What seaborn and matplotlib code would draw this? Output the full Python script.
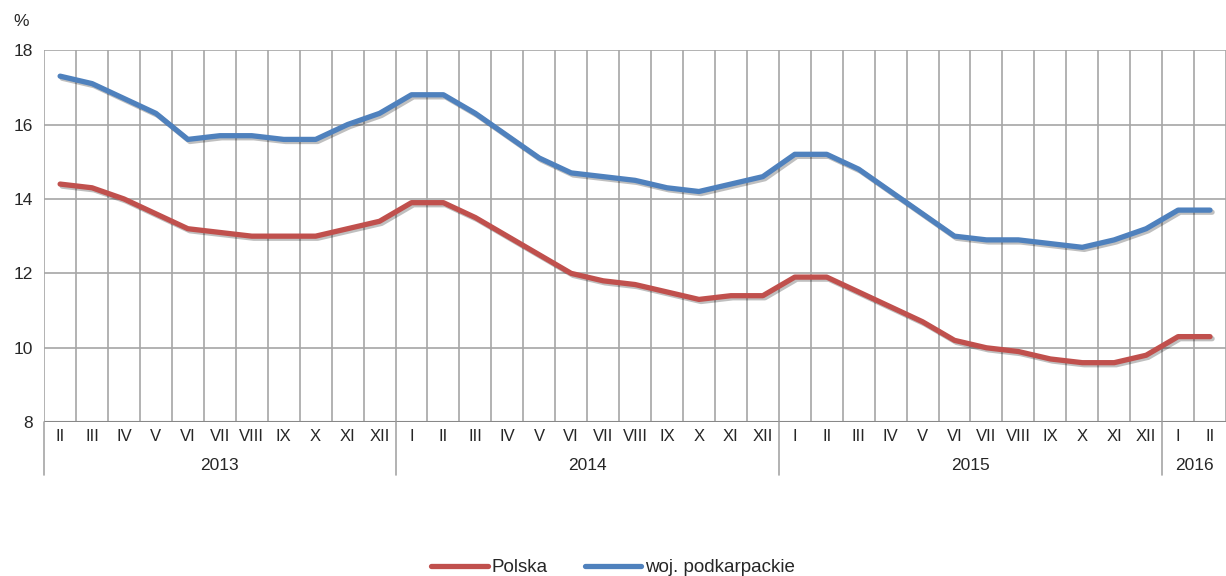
import matplotlib
matplotlib.use("Agg")
import matplotlib.pyplot as plt
import matplotlib.patheffects as pe
import pandas as pd
import seaborn as sns

# Unemployment rate, Feb 2013 - Feb 2016
months = ["II", "III", "IV", "V", "VI", "VII", "VIII", "IX", "X", "XI", "XII",
          "I", "II", "III", "IV", "V", "VI", "VII", "VIII", "IX", "X", "XI", "XII",
          "I", "II", "III", "IV", "V", "VI", "VII", "VIII", "IX", "X", "XI", "XII",
          "I", "II"]
years = ["2013", "2014", "2015", "2016"]
year_len = [11, 12, 12, 2]

polska = [14.4, 14.3, 14.0, 13.6, 13.2, 13.1, 13.0, 13.0, 13.0, 13.2, 13.4,
          13.9, 13.9, 13.5, 13.0, 12.5, 12.0, 11.8, 11.7, 11.5, 11.3, 11.4, 11.4,
          11.9, 11.9, 11.5, 11.1, 10.7, 10.2, 10.0, 9.9, 9.7, 9.6, 9.6, 9.8,
          10.3, 10.3]
podkarpackie = [17.3, 17.1, 16.7, 16.3, 15.6, 15.7, 15.7, 15.6, 15.6, 16.0, 16.3,
                16.8, 16.8, 16.3, 15.7, 15.1, 14.7, 14.6, 14.5, 14.3, 14.2, 14.4, 14.6,
                15.2, 15.2, 14.8, 14.2, 13.6, 13.0, 12.9, 12.9, 12.8, 12.7, 12.9, 13.2,
                13.7, 13.7]

n = len(months)
df = pd.DataFrame({
    "idx": list(range(n)) * 2,
    "value": polska + podkarpackie,
    "series": ["Polska"] * n + ["woj. podkarpackie"] * n,
})

sns.set_style("white")
plt.rcParams["font.family"] = ["Liberation Sans", "DejaVu Sans"]

fig = plt.figure(figsize=(12.26, 5.76), dpi=100)
ax = fig.add_axes([0.036, 0.267, 0.964, 0.646])

grid_c = "#a6a6a6"
for y in range(8, 19, 2):
    ax.axhline(y, color=grid_c, lw=1.2, zorder=0)
for i in range(n + 1):
    ax.axvline(i - 0.5, color=grid_c, lw=1.2, zorder=0)

shadow = [pe.SimpleLineShadow(offset=(1.5, -1.5), alpha=0.25), pe.Normal()]
sns.lineplot(data=df, x="idx", y="value", hue="series",
             palette=["#C0504D", "#4F81BD"], linewidth=3.8, ax=ax,
             legend=False, solid_capstyle="round", path_effects=shadow)

ax.set_xlim(-0.5, n - 0.5)
ax.set_ylim(8, 18)
ax.set_yticks(range(8, 19, 2))
ax.set_yticklabels([str(v) for v in range(8, 19, 2)], fontsize=12.5)
ax.set_xticks(range(n))
ax.set_xticklabels(months, fontsize=12)
ax.tick_params(axis="x", length=0, pad=5)
ax.tick_params(axis="y", length=0, pad=8)
ax.set_xlabel("")
ax.set_ylabel("")
for s in ax.spines.values():
    s.set_visible(False)
ax.axhline(8, color="#888888", lw=1.5, zorder=1)

# year labels and separators below the axis
trans = ax.get_xaxis_transform()
start = 0
bounds = [-0.5]
for yr, ln in zip(years, year_len):
    ax.text(start + (ln - 1) / 2, -0.116, yr, transform=trans, ha="center",
            va="center", fontsize=12.5)
    start += ln
    bounds.append(start - 0.5)
for b in bounds[:-1]:
    ax.plot([b, b], [0, -0.143], transform=trans, color=grid_c, lw=1.2, clip_on=False)

fig.text(0.011, 0.962, "%", fontsize=12.5, ha="left", va="center")

handles = [plt.Line2D([], [], color="#C0504D", lw=3.8, solid_capstyle="round"),
           plt.Line2D([], [], color="#4F81BD", lw=3.8, solid_capstyle="round")]
fig.legend(handles, ["Polska", "woj. podkarpackie"], loc="lower center",
           bbox_to_anchor=(0.5, -0.03), ncol=2, frameon=False, fontsize=13.5,
           handlelength=3.0, handletextpad=0.2, columnspacing=2.0)

fig.savefig("out.png", dpi=100)
